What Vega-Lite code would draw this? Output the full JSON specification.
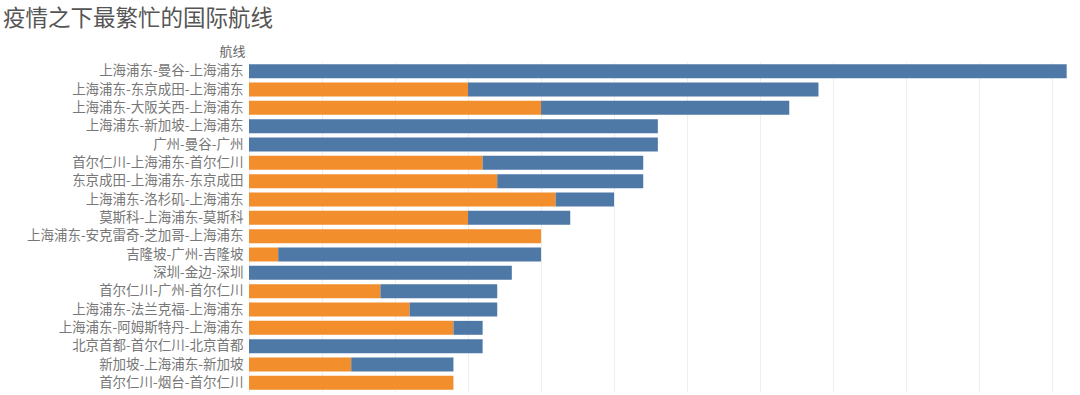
{
  "$schema": "https://vega.github.io/schema/vega-lite/v6.json",
  "width": 825,
  "height": 330,
  "autosize": {"type": "none"},
  "padding": {"left": 249, "top": 62, "right": 6, "bottom": 3},
  "background": "white",
  "title": {
    "text": "疫情之下最繁忙的国际航线",
    "anchor": "start",
    "frame": "group",
    "dx": -246,
    "dy": -11,
    "fontSize": 22.5,
    "font": "Noto Sans CJK SC",
    "fontWeight": "normal",
    "color": "#555555"
  },
  "data": {
    "values": [
      {"route": "上海浦东-曼谷-上海浦东", "seg": "a", "value": 0},
      {"route": "上海浦东-曼谷-上海浦东", "seg": "b", "value": 56},
      {"route": "上海浦东-东京成田-上海浦东", "seg": "a", "value": 15},
      {"route": "上海浦东-东京成田-上海浦东", "seg": "b", "value": 24},
      {"route": "上海浦东-大阪关西-上海浦东", "seg": "a", "value": 20},
      {"route": "上海浦东-大阪关西-上海浦东", "seg": "b", "value": 17},
      {"route": "上海浦东-新加坡-上海浦东", "seg": "a", "value": 0},
      {"route": "上海浦东-新加坡-上海浦东", "seg": "b", "value": 28},
      {"route": "广州-曼谷-广州", "seg": "a", "value": 0},
      {"route": "广州-曼谷-广州", "seg": "b", "value": 28},
      {"route": "首尔仁川-上海浦东-首尔仁川", "seg": "a", "value": 16},
      {"route": "首尔仁川-上海浦东-首尔仁川", "seg": "b", "value": 11},
      {"route": "东京成田-上海浦东-东京成田", "seg": "a", "value": 17},
      {"route": "东京成田-上海浦东-东京成田", "seg": "b", "value": 10},
      {"route": "上海浦东-洛杉矶-上海浦东", "seg": "a", "value": 21},
      {"route": "上海浦东-洛杉矶-上海浦东", "seg": "b", "value": 4},
      {"route": "莫斯科-上海浦东-莫斯科", "seg": "a", "value": 15},
      {"route": "莫斯科-上海浦东-莫斯科", "seg": "b", "value": 7},
      {"route": "上海浦东-安克雷奇-芝加哥-上海浦东", "seg": "a", "value": 20},
      {"route": "上海浦东-安克雷奇-芝加哥-上海浦东", "seg": "b", "value": 0},
      {"route": "吉隆坡-广州-吉隆坡", "seg": "a", "value": 2},
      {"route": "吉隆坡-广州-吉隆坡", "seg": "b", "value": 18},
      {"route": "深圳-金边-深圳", "seg": "a", "value": 0},
      {"route": "深圳-金边-深圳", "seg": "b", "value": 18},
      {"route": "首尔仁川-广州-首尔仁川", "seg": "a", "value": 9},
      {"route": "首尔仁川-广州-首尔仁川", "seg": "b", "value": 8},
      {"route": "上海浦东-法兰克福-上海浦东", "seg": "a", "value": 11},
      {"route": "上海浦东-法兰克福-上海浦东", "seg": "b", "value": 6},
      {"route": "上海浦东-阿姆斯特丹-上海浦东", "seg": "a", "value": 14},
      {"route": "上海浦东-阿姆斯特丹-上海浦东", "seg": "b", "value": 2},
      {"route": "北京首都-首尔仁川-北京首都", "seg": "a", "value": 0},
      {"route": "北京首都-首尔仁川-北京首都", "seg": "b", "value": 16},
      {"route": "新加坡-上海浦东-新加坡", "seg": "a", "value": 7},
      {"route": "新加坡-上海浦东-新加坡", "seg": "b", "value": 7},
      {"route": "首尔仁川-烟台-首尔仁川", "seg": "a", "value": 14},
      {"route": "首尔仁川-烟台-首尔仁川", "seg": "b", "value": 0}
    ]
  },
  "mark": {"type": "bar"},
  "encoding": {
    "y": {
      "field": "route",
      "type": "nominal",
      "sort": [
        "上海浦东-曼谷-上海浦东",
        "上海浦东-东京成田-上海浦东",
        "上海浦东-大阪关西-上海浦东",
        "上海浦东-新加坡-上海浦东",
        "广州-曼谷-广州",
        "首尔仁川-上海浦东-首尔仁川",
        "东京成田-上海浦东-东京成田",
        "上海浦东-洛杉矶-上海浦东",
        "莫斯科-上海浦东-莫斯科",
        "上海浦东-安克雷奇-芝加哥-上海浦东",
        "吉隆坡-广州-吉隆坡",
        "深圳-金边-深圳",
        "首尔仁川-广州-首尔仁川",
        "上海浦东-法兰克福-上海浦东",
        "上海浦东-阿姆斯特丹-上海浦东",
        "北京首都-首尔仁川-北京首都",
        "新加坡-上海浦东-新加坡",
        "首尔仁川-烟台-首尔仁川"
      ],
      "scale": {"paddingInner": 0.24, "paddingOuter": 0.12},
      "axis": {
        "title": "航线",
        "titleAngle": 0,
        "titleAlign": "right",
        "titleBaseline": "middle",
        "titleX": -4,
        "titleY": -11,
        "titleFont": "Noto Sans CJK SC",
        "titleFontSize": 13,
        "titleFontWeight": "normal",
        "titleColor": "#666666",
        "labelFont": "Noto Sans CJK SC",
        "labelFontSize": 13.5,
        "labelColor": "#777777",
        "labelPadding": 6,
        "labelLimit": 400,
        "ticks": false,
        "domain": false,
        "grid": false
      }
    },
    "x": {
      "field": "value",
      "type": "quantitative",
      "stack": "zero",
      "scale": {"domain": [0, 56.5], "nice": false, "zero": true},
      "axis": {
        "title": null,
        "labels": false,
        "ticks": false,
        "domain": false,
        "grid": true,
        "gridColor": "#eeeeee",
        "gridWidth": 1,
        "values": [0, 5, 10, 15, 20, 25, 30, 35, 40, 45, 50, 55]
      }
    },
    "color": {
      "field": "seg",
      "type": "nominal",
      "scale": {"domain": ["a", "b"], "range": ["#f28e2b", "#4e79a7"]},
      "legend": null
    },
    "order": {"field": "seg", "type": "ordinal", "sort": "ascending"}
  },
  "config": {"view": {"stroke": null}}
}
